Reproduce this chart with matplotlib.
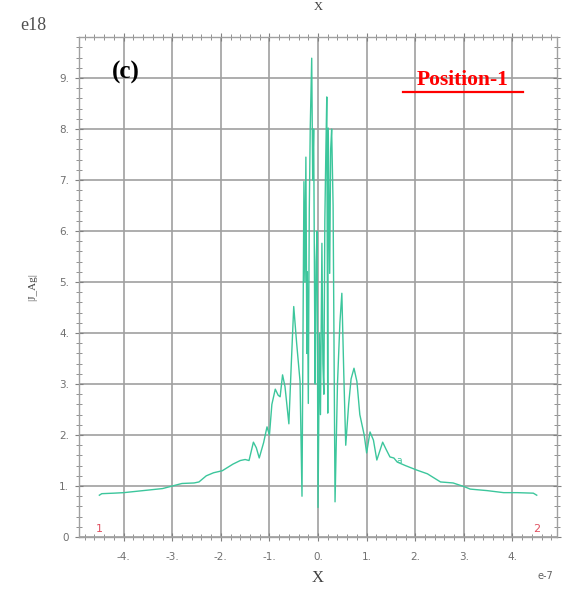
import numpy as np
import matplotlib.pyplot as plt
from matplotlib.ticker import MultipleLocator, FixedLocator, FixedFormatter

# curve (x in units of 1e-7, |J_Ag| in units of 1e18)
x_vals = [-4.50, -4.45, -4.20, -4.00, -3.60, -3.20, -3.00, -2.80, -2.55, -2.45,
          -2.30, -2.15, -1.97, -1.75, -1.60, -1.50, -1.42, -1.33, -1.27, -1.21,
          -1.12, -1.05, -1.00, -0.95, -0.88, -0.82, -0.78, -0.73, -0.68, -0.60,
          -0.55, -0.50, -0.44, -0.37, -0.33, -0.29, -0.27, -0.25, -0.23, -0.22,
          -0.20, -0.18, -0.16, -0.13, -0.11, -0.09, -0.07, -0.06, -0.04, -0.02,
          0.00, 0.03, 0.05, 0.08, 0.10, 0.12, 0.14, 0.16, 0.18, 0.20,
          0.21, 0.24, 0.26, 0.28, 0.31, 0.35, 0.40, 0.45, 0.49, 0.53,
          0.57, 0.63, 0.68, 0.74, 0.80, 0.86, 0.95, 1.00, 1.07, 1.14,
          1.21, 1.33, 1.40, 1.48, 1.56, 1.63, 1.80, 2.04, 2.25, 2.52,
          2.78, 3.03, 3.13, 3.48, 3.82, 4.10, 4.43, 4.50]
j_vals = [0.82, 0.85, 0.86, 0.87, 0.91, 0.95, 1.00, 1.05, 1.06, 1.08,
          1.20, 1.26, 1.30, 1.43, 1.50, 1.52, 1.50, 1.86, 1.75, 1.55,
          1.85, 2.16, 2.00, 2.60, 2.90, 2.78, 2.75, 3.18, 2.95, 2.22,
          3.40, 4.52, 3.80, 3.05, 0.80, 6.97, 5.00, 7.45, 3.60, 5.20,
          2.62, 6.40, 8.04, 9.39, 7.00, 8.00, 4.50, 3.00, 5.40, 6.00,
          0.58, 4.00, 2.40, 5.76, 3.40, 2.80, 6.20, 7.50, 8.63, 2.43,
          8.02, 5.17, 7.60, 8.00, 6.50, 0.69, 3.00, 4.20, 4.78, 3.20,
          1.80, 2.60, 3.10, 3.31, 3.05, 2.40, 2.00, 1.65, 2.06, 1.90,
          1.51, 1.86, 1.72, 1.57, 1.55, 1.47, 1.40, 1.31, 1.24, 1.08,
          1.06, 0.98, 0.94, 0.91, 0.87, 0.87, 0.86, 0.82]

x_ticks = [-4, -3, -2, -1, 0, 1, 2, 3, 4]
x_labels = ["-4.", "-3.", "-2.", "-1.", "0.", "1.", "2.", "3.", "4."]
y_ticks = [0, 1, 2, 3, 4, 5, 6, 7, 8, 9]
y_labels = ["0", "1.", "2.", "3.", "4.", "5.", "6.", "7.", "8.", "9."]

grid_col = "#a0a0a0"
tick_col = "#808080"

fig = plt.figure(figsize=(5.72, 5.90), dpi=100)
ax = fig.add_axes([0.138, 0.0898, 0.836, 0.847])

ax.plot(x_vals, j_vals, color="#3cc69c", lw=1.0, zorder=3)

ax.set_xlim(-4.92, 4.92)
ax.set_ylim(0, 9.8)

ax.xaxis.set_major_locator(FixedLocator(x_ticks))
ax.xaxis.set_major_formatter(FixedFormatter(x_labels))
ax.yaxis.set_major_locator(FixedLocator(y_ticks))
ax.yaxis.set_major_formatter(FixedFormatter(y_labels))
ax.xaxis.set_minor_locator(MultipleLocator(0.2))
ax.yaxis.set_minor_locator(MultipleLocator(0.2))

ax.tick_params(which="both", direction="inout", colors=tick_col,
               top=True, right=True, labelsize=7.5, labelcolor="#707070")
ax.tick_params(which="major", length=6, width=0.8)
ax.tick_params(which="minor", length=4, width=0.6)
ax.tick_params(axis="x", pad=8)
ax.tick_params(axis="y", pad=4)

ax.grid(True, which="major", color=grid_col, lw=1.2)
for sp in ax.spines.values():
    sp.set_color(grid_col)
    sp.set_linewidth(1.0)

# labels
ax.set_ylabel("|J_Ag|", family="Liberation Serif", fontsize=8, color="#404040", labelpad=16)
fig.text(318 / 572, 1 - 578 / 590, "X", family="Liberation Serif", fontsize=12,
         color="#404040", ha="center", va="center")
fig.text(318 / 572, 0.999, "X", family="Liberation Serif", fontsize=9,
         color="#404040", ha="center", va="top")
fig.text(545 / 572, 1 - 576 / 590, "e-7", fontsize=7, color="#606060",
         ha="center", va="center")
fig.text(33 / 572, 1 - 25 / 590, "e18", family="Liberation Serif", fontsize=13,
         color="#505050", ha="center", va="center")

# annotations
fig.text(126 / 572, 1 - 72 / 590, "(c)", family="Liberation Serif", fontweight="bold",
         fontsize=18, color="black", ha="center", va="center")
fig.text(463 / 572, 1 - 80 / 590, "Position-1", family="Liberation Serif",
         fontweight="bold", fontsize=15.5, color="red", ha="center", va="center")
fig.add_artist(plt.Line2D([403 / 572, 523 / 572], [1 - 92 / 590, 1 - 92 / 590],
                          color="red", lw=1.6))

ax.text(-4.5, 0.15, "1", color="#e05060", fontsize=8, ha="center", va="center")
ax.text(4.5, 0.15, "2", color="#e05060", fontsize=8, ha="center", va="center")
ax.text(1.68, 1.5, "a", color="#3cc69c", fontsize=6.5, ha="center", va="center")

fig.savefig("out.png", dpi=100)
